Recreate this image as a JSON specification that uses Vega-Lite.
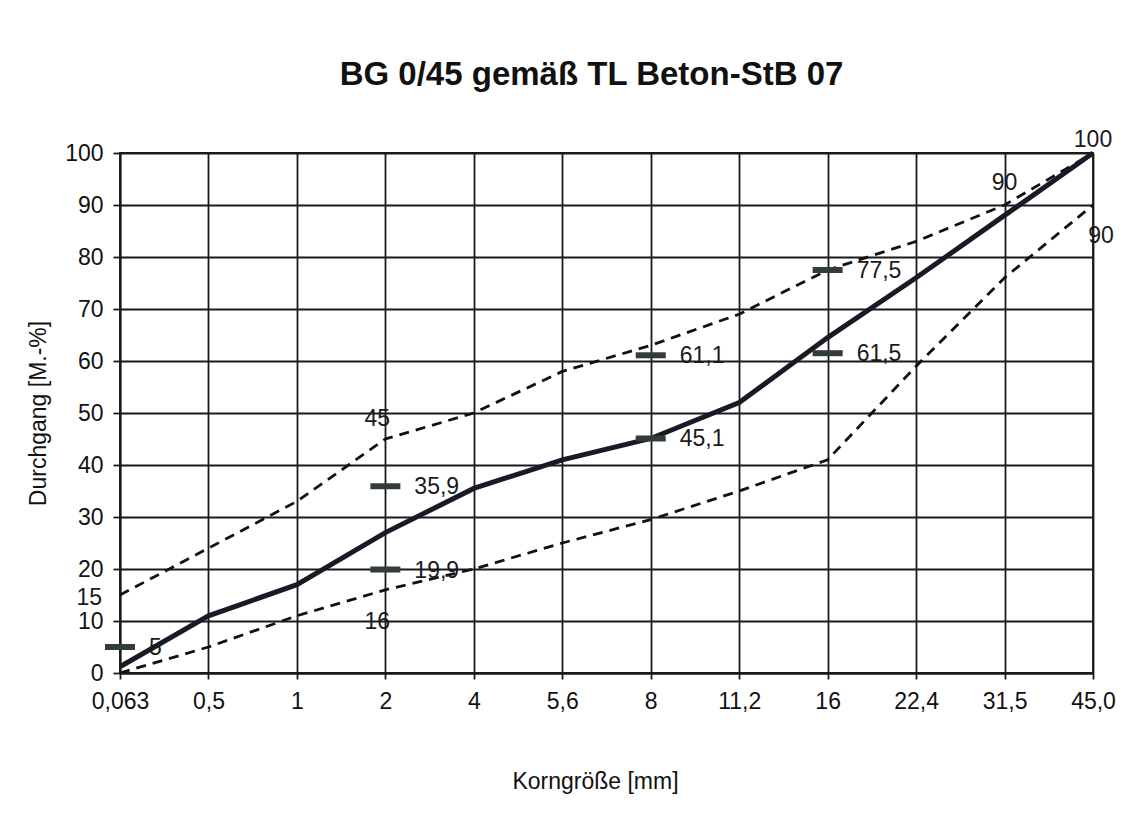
{
  "$schema": "https://vega.github.io/schema/vega-lite/v6.json",
  "autosize": "none",
  "width": 973,
  "height": 520,
  "padding": {"left": 120, "top": 153, "right": 31, "bottom": 148},
  "background": "white",
  "title": {
    "text": "BG 0/45 gemäß TL Beton-StB 07",
    "font": "Liberation Sans",
    "fontSize": 33,
    "fontWeight": "bold",
    "color": "#111111",
    "anchor": "middle",
    "offset": 37,
    "dx": -15
  },
  "config": {
    "font": "Liberation Sans",
    "view": {"stroke": "#1a1a1a", "strokeWidth": 1.8},
    "axis": {
      "labelFont": "Liberation Sans",
      "titleFont": "Liberation Sans",
      "labelFontSize": 23,
      "titleFontSize": 23,
      "titleFontWeight": "normal",
      "labelColor": "#111111",
      "titleColor": "#111111",
      "domainColor": "#1a1a1a",
      "domainWidth": 1.8,
      "tickColor": "#1a1a1a",
      "tickWidth": 1.8,
      "gridColor": "#1a1a1a",
      "gridWidth": 1.8,
      "gridOpacity": 1
    }
  },
  "datasets": {
    "curves": [
      {"k": "0,063", "series": "Sieblinie", "p": 1.2},
      {"k": "0,5", "series": "Sieblinie", "p": 11},
      {"k": "1", "series": "Sieblinie", "p": 17},
      {"k": "2", "series": "Sieblinie", "p": 27},
      {"k": "4", "series": "Sieblinie", "p": 35.5},
      {"k": "5,6", "series": "Sieblinie", "p": 41},
      {"k": "8", "series": "Sieblinie", "p": 45.1},
      {"k": "11,2", "series": "Sieblinie", "p": 52},
      {"k": "16", "series": "Sieblinie", "p": 64.5},
      {"k": "22,4", "series": "Sieblinie", "p": 76},
      {"k": "31,5", "series": "Sieblinie", "p": 88},
      {"k": "45,0", "series": "Sieblinie", "p": 100},
      {"k": "0,063", "series": "obere Grenze", "p": 15},
      {"k": "0,5", "series": "obere Grenze", "p": 24},
      {"k": "1", "series": "obere Grenze", "p": 33},
      {"k": "2", "series": "obere Grenze", "p": 45},
      {"k": "4", "series": "obere Grenze", "p": 50},
      {"k": "5,6", "series": "obere Grenze", "p": 58},
      {"k": "8", "series": "obere Grenze", "p": 63},
      {"k": "11,2", "series": "obere Grenze", "p": 69},
      {"k": "16", "series": "obere Grenze", "p": 77.5},
      {"k": "22,4", "series": "obere Grenze", "p": 83},
      {"k": "31,5", "series": "obere Grenze", "p": 90},
      {"k": "45,0", "series": "obere Grenze", "p": 100},
      {"k": "0,063", "series": "untere Grenze", "p": 0},
      {"k": "0,5", "series": "untere Grenze", "p": 5},
      {"k": "1", "series": "untere Grenze", "p": 11},
      {"k": "2", "series": "untere Grenze", "p": 16},
      {"k": "4", "series": "untere Grenze", "p": 20},
      {"k": "5,6", "series": "untere Grenze", "p": 25},
      {"k": "8", "series": "untere Grenze", "p": 29.5},
      {"k": "11,2", "series": "untere Grenze", "p": 35},
      {"k": "16", "series": "untere Grenze", "p": 41},
      {"k": "22,4", "series": "untere Grenze", "p": 59},
      {"k": "31,5", "series": "untere Grenze", "p": 76},
      {"k": "45,0", "series": "untere Grenze", "p": 90}
    ],
    "markers": [
      {"k": "0,063", "v": 5, "label": "5"},
      {"k": "2", "v": 35.9, "label": "35,9"},
      {"k": "2", "v": 19.9, "label": "19,9"},
      {"k": "8", "v": 61.1, "label": "61,1"},
      {"k": "8", "v": 45.1, "label": "45,1"},
      {"k": "16", "v": 77.5, "label": "77,5"},
      {"k": "16", "v": 61.5, "label": "61,5"}
    ],
    "limits": [
      {"k": "0,063", "v": 15, "label": "15", "pos": "left"},
      {"k": "2", "v": 45, "label": "45", "pos": "aboveleft"},
      {"k": "2", "v": 16, "label": "16", "pos": "below"},
      {"k": "31,5", "v": 90, "label": "90", "pos": "above"},
      {"k": "45,0", "v": 100, "label": "100", "pos": "top"},
      {"k": "45,0", "v": 90, "label": "90", "pos": "belowright"}
    ]
  },
  "encoding": {
    "x": {
      "field": "k",
      "type": "ordinal",
      "sort": null,
      "scale": {"type": "point", "padding": 0, "domain": ["0,063", "0,5", "1", "2", "4", "5,6", "8", "11,2", "16", "22,4", "31,5", "45,0"]},
      "axis": {"title": "Korngröße [mm]", "labelAngle": 0, "tickSize": 6, "labelPadding": 11, "titlePadding": 57, "titleX": 475, "titleAlign": "center", "grid": true}
    },
    "y": {
      "field": "p",
      "type": "quantitative",
      "scale": {"domain": [0, 100], "nice": false},
      "axis": {"title": "Durchgang [M.-%]", "values": [0, 10, 20, 30, 40, 50, 60, 70, 80, 90, 100], "tickSize": 7, "labelPadding": 10, "titlePadding": 14, "grid": true}
    }
  },
  "layer": [
    {
      "data": {"name": "curves"},
      "transform": [{"filter": "datum.series !== 'Sieblinie'"}],
      "mark": {"type": "line", "color": "#111111", "strokeWidth": 2.8, "strokeDash": [10, 7]},
      "encoding": {"detail": {"field": "series"}}
    },
    {
      "data": {"name": "curves"},
      "transform": [{"filter": "datum.series === 'Sieblinie'"}],
      "mark": {"type": "line", "color": "#1a1a26", "strokeWidth": 5}
    },
    {
      "data": {"name": "markers"},
      "mark": {"type": "tick", "orient": "horizontal", "color": "#323c39", "size": 30, "thickness": 6, "opacity": 1},
      "encoding": {"y": {"field": "v", "type": "quantitative"}}
    },
    {
      "data": {"name": "markers"},
      "mark": {"type": "text", "align": "left", "baseline": "middle", "dx": 29, "dy": 1, "fontSize": 23, "color": "#1a1a1a"},
      "encoding": {"y": {"field": "v", "type": "quantitative"}, "text": {"field": "label"}}
    },
    {
      "data": {"name": "limits"},
      "transform": [{"filter": "datum.pos === 'left'"}],
      "mark": {"type": "text", "align": "right", "baseline": "middle", "dx": -18, "dy": 3, "fontSize": 23, "color": "#1a1a1a"},
      "encoding": {"y": {"field": "v", "type": "quantitative"}, "text": {"field": "label"}}
    },
    {
      "data": {"name": "limits"},
      "transform": [{"filter": "datum.pos === 'aboveleft'"}],
      "mark": {"type": "text", "align": "center", "baseline": "middle", "dx": -8, "dy": -20, "fontSize": 23, "color": "#1a1a1a"},
      "encoding": {"y": {"field": "v", "type": "quantitative"}, "text": {"field": "label"}}
    },
    {
      "data": {"name": "limits"},
      "transform": [{"filter": "datum.pos === 'above'"}],
      "mark": {"type": "text", "align": "center", "baseline": "middle", "dx": 0, "dy": -22, "fontSize": 23, "color": "#1a1a1a"},
      "encoding": {"y": {"field": "v", "type": "quantitative"}, "text": {"field": "label"}}
    },
    {
      "data": {"name": "limits"},
      "transform": [{"filter": "datum.pos === 'below'"}],
      "mark": {"type": "text", "align": "center", "baseline": "middle", "dx": -8, "dy": 32, "fontSize": 23, "color": "#1a1a1a"},
      "encoding": {"y": {"field": "v", "type": "quantitative"}, "text": {"field": "label"}}
    },
    {
      "data": {"name": "limits"},
      "transform": [{"filter": "datum.pos === 'top'"}],
      "mark": {"type": "text", "align": "center", "baseline": "middle", "dx": 0, "dy": -13, "fontSize": 23, "color": "#1a1a1a"},
      "encoding": {"y": {"field": "v", "type": "quantitative"}, "text": {"field": "label"}}
    },
    {
      "data": {"name": "limits"},
      "transform": [{"filter": "datum.pos === 'belowright'"}],
      "mark": {"type": "text", "align": "center", "baseline": "middle", "dx": 8, "dy": 31, "fontSize": 23, "color": "#1a1a1a"},
      "encoding": {"y": {"field": "v", "type": "quantitative"}, "text": {"field": "label"}}
    }
  ]
}
